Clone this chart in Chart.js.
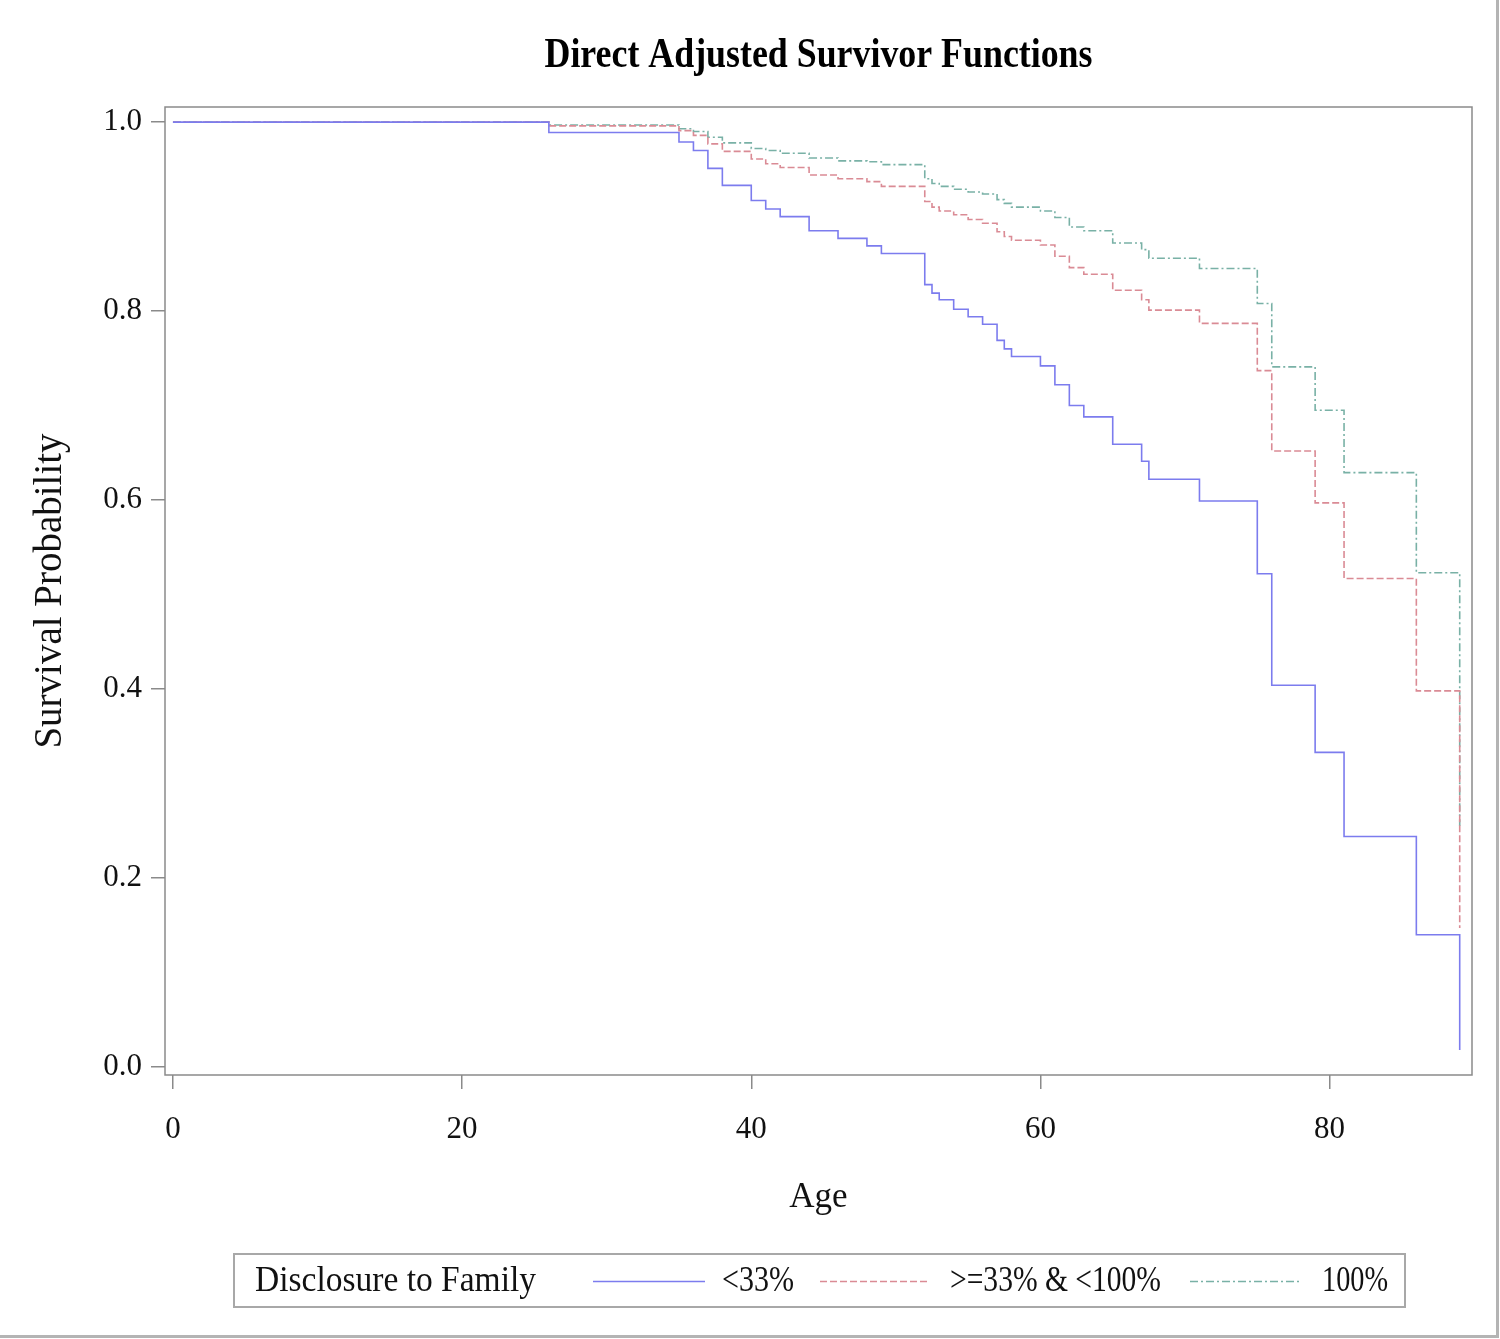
<!DOCTYPE html>
<html>
<head>
<meta charset="utf-8">
<script src="https://cdn.jsdelivr.net/npm/chart.js@4.4.1/dist/chart.umd.min.js"></script>
<style>
  html, body { margin: 0; padding: 0; background: #fff; }
  #wrap { width: 1500px; height: 1339px; }
</style>
</head>
<body>
<div id="wrap"><canvas id="chart" width="1500" height="1339"></canvas></div>
<script>
// event ages shared by the three adjusted curves
const ages = [0, 26, 35, 36, 37, 38, 40, 41, 42, 44, 46, 48, 49, 52, 52.5, 53, 54, 55, 56, 57, 57.5, 58,
  60, 61, 62, 63, 65, 67, 67.5, 71, 75, 76, 79, 81, 86, 89];

// <33%
const survLow = [1.0, 0.989, 0.979, 0.970, 0.951, 0.933, 0.917, 0.908, 0.900, 0.885, 0.877, 0.869, 0.861,
  0.828, 0.819, 0.812, 0.802, 0.794, 0.786, 0.769, 0.760, 0.752, 0.742, 0.722, 0.700, 0.688, 0.659,
  0.641, 0.622, 0.599, 0.522, 0.404, 0.333, 0.244, 0.140, 0.018];

// >=33% & <100%
const survMid = [1.0, 0.996, 0.991, 0.986, 0.977, 0.969, 0.961, 0.956, 0.952, 0.944, 0.940, 0.937, 0.932,
  0.916, 0.910, 0.906, 0.902, 0.897, 0.893, 0.884, 0.879, 0.875, 0.870, 0.858, 0.846, 0.839, 0.822,
  0.812, 0.801, 0.787, 0.737, 0.652, 0.597, 0.517, 0.398, 0.147];

// 100%
const survAll = [1.0, 0.997, 0.993, 0.990, 0.984, 0.978, 0.972, 0.970, 0.967, 0.962, 0.959, 0.958, 0.955,
  0.940, 0.935, 0.932, 0.929, 0.926, 0.924, 0.918, 0.914, 0.910, 0.906, 0.899, 0.889, 0.885, 0.872,
  0.865, 0.856, 0.845, 0.808, 0.741, 0.695, 0.629, 0.523, 0.255];

const groupLabels = ['<33%', '>=33% & <100%', '100%'];
const xTicks = [0, 20, 40, 60, 80];
const yTicks = [0, 0.2, 0.4, 0.6, 0.8, 1.0];

const chartTitle = 'Direct Adjusted Survivor Functions';
const legendTitle = 'Disclosure to Family';

const FONT = "'Liberation Serif', 'Times New Roman', serif";
const toPoints = (ys) => ages.map((a, i) => ({ x: a, y: ys[i] }));

// title over the plot area, plot frame, legend box and the picture edge
const framePlugin = {
  id: 'frame',
  afterDraw(chart) {
    const { ctx, chartArea: a } = chart;
    ctx.save();

    // title, narrow like the original
    ctx.fillStyle = '#000';
    ctx.textAlign = 'center';
    ctx.textBaseline = 'middle';
    ctx.font = 'bold 42px ' + FONT;
    ctx.fillText(chartTitle, (a.left + a.right) / 2, 56, 548);
    ctx.textAlign = 'left';

    ctx.strokeStyle = '#8a8a8a';
    ctx.lineWidth = 1.5;
    ctx.strokeRect(a.left, a.top, a.right - a.left, a.bottom - a.top);

    // picture edge (right and bottom)
    ctx.strokeStyle = '#b4b4b4';
    ctx.lineWidth = 3;
    ctx.beginPath();
    ctx.moveTo(1497.5, 0); ctx.lineTo(1497.5, 1336.5); ctx.lineTo(0, 1336.5);
    ctx.stroke();

    // legend
    ctx.strokeStyle = '#a8a8a8';
    ctx.lineWidth = 2;
    ctx.strokeRect(234, 1254, 1171, 53);
    ctx.fillStyle = '#111';
    ctx.font = '36px ' + FONT;
    ctx.fillText(legendTitle, 255, 1282, 281);
    const items = [[593, 705, 722, 72], [820, 930, 950, 211], [1190, 1300, 1322, 66]];
    chart.data.datasets.forEach((ds, i) => {
      const [x0, x1, tx, tw] = items[i];
      ctx.strokeStyle = ds.borderColor;
      ctx.lineWidth = 1.5;
      ctx.setLineDash(ds.borderDash || []);
      ctx.beginPath();
      ctx.moveTo(x0, 1281.5); ctx.lineTo(x1, 1281.5);
      ctx.stroke();
      ctx.setLineDash([]);
      ctx.fillText(ds.label, tx, 1282, tw);
    });
    ctx.restore();
  }
};

new Chart(document.getElementById('chart'), {
  type: 'line',
  data: {
    datasets: [
      {
        label: groupLabels[0],
        data: toPoints(survLow),
        borderColor: '#7c7cee',
        borderWidth: 1.6,
        stepped: true,
        pointRadius: 0,
        fill: false
      },
      {
        label: groupLabels[1],
        data: toPoints(survMid),
        borderColor: '#da8b95',
        borderWidth: 1.6,
        borderDash: [7, 3],
        stepped: true,
        pointRadius: 0,
        fill: false
      },
      {
        label: groupLabels[2],
        data: toPoints(survAll),
        borderColor: '#79b1a6',
        borderWidth: 1.6,
        borderDash: [8, 3, 2, 3],
        stepped: true,
        pointRadius: 0,
        fill: false
      }
    ]
  },
  options: {
    responsive: false,
    animation: false,
    layout: { padding: { left: 0, right: 28, top: 107, bottom: 111 } },
    plugins: {
      legend: { display: false },
      tooltip: { enabled: false },
      title: { display: false }
    },
    scales: {
      x: {
        type: 'linear',
        min: -0.55,
        max: 89.85,
        afterBuildTicks(scale) { scale.ticks = xTicks.map(v => ({ value: v })); },
        afterFit(scale) { scale.height = 153; },
        grid: { drawOnChartArea: false, drawTicks: true, tickLength: 14, color: '#8a8a8a', lineWidth: 1.5 },
        border: { display: false },
        ticks: { color: '#111', font: { family: FONT, size: 31 }, padding: 22, maxRotation: 0 },
        title: {
          display: true,
          text: 'Age',
          color: '#111',
          font: { family: FONT, size: 35 },
          padding: { top: 0, bottom: 9 }
        }
      },
      y: {
        type: 'linear',
        min: -0.0085,
        max: 1.016,
        afterBuildTicks(scale) { scale.ticks = yTicks.map(v => ({ value: v })); },
        afterFit(scale) { scale.width = 165; },
        grid: { drawOnChartArea: false, drawTicks: true, tickLength: 14, color: '#8a8a8a', lineWidth: 1.5 },
        border: { display: false },
        ticks: {
          color: '#111',
          font: { family: FONT, size: 31 },
          padding: 9,
          callback: (v) => Number(v).toFixed(1)
        },
        title: {
          display: true,
          text: 'Survival Probability',
          color: '#111',
          font: { family: FONT, size: 39 },
          padding: { top: 27, bottom: 0 }
        }
      }
    }
  },
  plugins: [framePlugin]
});
</script>
</body>
</html>
